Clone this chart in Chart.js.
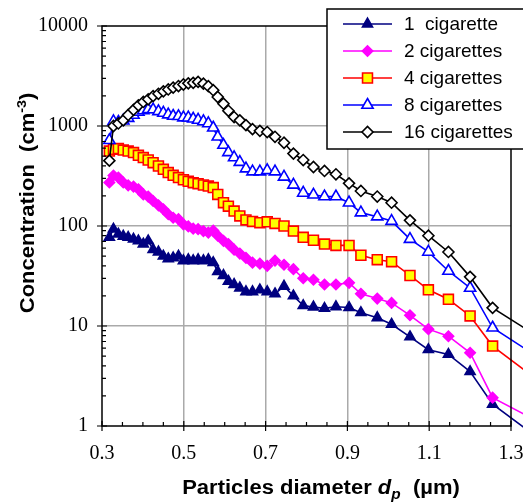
<!DOCTYPE html>
<html><head><meta charset="utf-8">
<script src="https://cdn.jsdelivr.net/npm/chart.js@4.4.1/dist/chart.umd.min.js"></script>
<style>html,body{margin:0;padding:0;background:#fff;overflow:hidden}canvas{display:block}</style>
</head><body>
<canvas id="c" width="523" height="502"></canvas>
<script>
// Particle diameter (µm) — shared size channels
const diameters = [0.318,0.328,0.340,0.352,0.364,0.377,0.389,0.401,0.413,0.425,0.438,0.450,0.462,0.474,0.487,0.499,0.511,0.523,0.535,0.548,0.560,0.572,0.583,0.597,0.609,0.623,0.637,0.652,0.668,0.686,0.704,0.723,0.745,0.768,0.792,0.817,0.844,0.872,0.904,0.933,0.973,1.008,1.053,1.098,1.147,1.200,1.255,1.35];
// Concentration (cm^-3)
const conc1 = [77,93,83,79,77,74,71,66,71,58,55,50,47,48,50,45,46,45,46,45,46,43,35,32,28,26,24,22,22,23,22,21,25,20,16,15.5,15,15.6,15.3,13.6,12.1,10.4,7.8,5.8,5.2,3.5,1.65,0.85];
const conc2 = [272,320,305,272,255,248,233,207,197,178,161,147,131,121,117,104,99,94,93,89,86,90,80,71,66,58,53,48,43,42,40,45,41,37,30,29,26,26,27,21,18.8,17,12.8,9.3,7.9,5.4,1.92,1.2];
const conc4 = [562,585,594,575,562,542,509,483,457,430,398,369,342,321,305,290,280,271,265,257,251,242,207,171,158,141,126,115,111,108,110,106,100,89,77,72,66,64,64,51,46,44,32,23,18.5,12.6,6.3,3.2];
const conc8 = [720,1110,1096,1130,1200,1290,1380,1430,1469,1460,1400,1350,1300,1259,1250,1213,1210,1180,1150,1110,1060,960,780,645,545,485,435,375,350,350,360,350,310,258,214,205,197,197,171,136,124,112,74,55,35.5,24,9.6,5.4];
const conc16 = [450,1000,1060,1140,1290,1450,1610,1740,1850,1990,2100,2220,2320,2420,2510,2600,2670,2700,2760,2650,2500,2280,1950,1670,1420,1230,1140,1020,930,895,870,780,680,530,457,389,355,329,267,224,197,171,114,80,55,31,15.2,8.6];
const seriesLabels = ['1  cigarette','2 cigarettes','4 cigarettes','8 cigarettes','16 cigarettes'];
const xTickValues = [0.3,0.5,0.7,0.9,1.1,1.3];
const yTickValues = [1,10,100,1000,10000];

const seriesValues = [conc1, conc2, conc4, conc8, conc16];
const styles = [
  {line:'#000080', fill:'#000080', stroke:'#000080', shape:'triangle', r:5.8, order:5},
  {line:'#FF00FF', fill:'#FF00FF', stroke:'#FF00FF', shape:'rectRot', r:5.2, order:4},
  {line:'#FF0000', fill:'#FFFF00', stroke:'#FF0000', shape:'rect', r:7, order:3},
  {line:'#0000FF', fill:'#FFFFFF', stroke:'#0000FF', shape:'triangle', r:6.5, order:2},
  {line:'#000000', fill:'#FFFFFF', stroke:'#000000', shape:'rectRot', r:5.5, order:1}
];

const datasets = seriesValues.map((vals, k) => ({
  label: seriesLabels[k],
  data: diameters.map((d, i) => ({x: d, y: vals[i]})),
  borderColor: styles[k].line,
  borderWidth: 1.6,
  pointStyle: styles[k].shape,
  pointRadius: styles[k].r,
  pointBackgroundColor: styles[k].fill,
  pointBorderColor: styles[k].stroke,
  pointBorderWidth: 1.6,
  tension: 0,
  fill: false,
  clip: false,
  order: styles[k].order
}));

const SERIF = '"Liberation Serif","Times New Roman",serif';
const SANS = '"Liberation Sans",Arial,sans-serif';

function drawParts(ctx, parts, cx, baseline, sx) {
  let total = 0;
  parts.forEach(p => { ctx.font = p.f; p.w = ctx.measureText(p.t).width; total += p.w; });
  ctx.save();
  ctx.translate(cx, baseline);
  ctx.scale(sx, 1);
  let x = -total / 2;
  ctx.textAlign = 'left';
  ctx.textBaseline = 'alphabetic';
  parts.forEach(p => { ctx.font = p.f; ctx.fillText(p.t, x, p.dy || 0); x += p.w; });
  ctx.restore();
}

const decor = {
  id: 'decor',
  afterDatasetsDraw(chart) {
    const ctx = chart.ctx, a = chart.chartArea;
    const xs = chart.scales.x, ys = chart.scales.y;
    ctx.save();
    ctx.strokeStyle = '#000';
    ctx.lineWidth = 1.5;
    ctx.strokeRect(a.left, a.top, a.right - a.left, a.bottom - a.top);
    ctx.lineWidth = 1.2;
    ctx.beginPath();
    for (let i = 0; i <= 20; i++) {
      const px = xs.getPixelForValue(0.3 + i * 0.05);
      if (i % 4 === 0) { ctx.moveTo(px, a.bottom - 5); ctx.lineTo(px, a.bottom + 5); }
      else { ctx.moveTo(px, a.bottom - 4); ctx.lineTo(px, a.bottom); }
    }
    for (let k = 0; k <= 4; k++) {
      const py = ys.getPixelForValue(Math.pow(10, k));
      ctx.moveTo(a.left - 5, py); ctx.lineTo(a.left + 5, py);
      if (k < 4) {
        for (let m = 2; m <= 9; m++) {
          const q = ys.getPixelForValue(m * Math.pow(10, k));
          ctx.moveTo(a.left, q); ctx.lineTo(a.left + 4, q);
        }
      }
    }
    ctx.stroke();
    ctx.restore();
  },
  afterDraw(chart) {
    const ctx = chart.ctx;
    ctx.save();
    ctx.fillStyle = '#000';
    // x title
    drawParts(ctx, [
      {t: 'Particles diameter ', f: 'bold 20px ' + SANS},
      {t: 'd', f: 'italic bold 20px ' + SANS},
      {t: 'p', f: 'italic bold 14px ' + SANS, dy: 5},
      {t: '  (\u00b5m)', f: 'bold 20px ' + SANS}
    ], 321, 494, 1.1);
    // y title
    ctx.save();
    ctx.translate(34, 203);
    ctx.rotate(-Math.PI / 2);
    drawParts(ctx, [
      {t: 'Concentration  (cm', f: 'bold 20px ' + SANS},
      {t: '-3', f: 'bold 13px ' + SANS, dy: -8},
      {t: ')', f: 'bold 20px ' + SANS}
    ], 0, 0, 1.1);
    ctx.restore();
    // legend
    const bx = 327, by = 9, bw = 198, bh = 140;
    ctx.fillStyle = '#fff';
    ctx.fillRect(bx, by, bw, bh);
    ctx.strokeStyle = '#000';
    ctx.lineWidth = 1.5;
    ctx.strokeRect(bx, by, bw, bh);
    chart.data.datasets.forEach((ds, i) => {
      const y = 24 + 27 * i;
      ctx.strokeStyle = ds.borderColor;
      ctx.lineWidth = 1.6;
      ctx.beginPath(); ctx.moveTo(343, y); ctx.lineTo(392, y); ctx.stroke();
      ctx.fillStyle = ds.pointBackgroundColor;
      ctx.strokeStyle = ds.pointBorderColor;
      ctx.lineWidth = ds.pointBorderWidth;
      Chart.helpers.drawPoint(ctx, {pointStyle: ds.pointStyle, radius: ds.pointRadius, rotation: 0, borderWidth: ds.pointBorderWidth}, 367.5, y);
      ctx.fillStyle = '#000';
      ctx.font = '19px ' + SANS;
      ctx.textAlign = 'left';
      ctx.textBaseline = 'middle';
      ctx.fillText(ds.label, 404, y + 1);
    });
    ctx.restore();
  }
};

new Chart(document.getElementById('c'), {
  type: 'line',
  data: {datasets},
  options: {
    responsive: false,
    animation: false,
    devicePixelRatio: 1,
    layout: {padding: {top: 26, right: 12, bottom: 0, left: 0}},
    plugins: {legend: {display: false}, tooltip: {enabled: false}},
    scales: {
      x: {
        type: 'linear', min: 0.3, max: 1.3,
        afterBuildTicks: s => { s.ticks = xTickValues.map(v => ({value: v})); },
        afterFit: s => { s.height = 76; s.paddingLeft = 0; s.paddingRight = 0; },
        border: {display: false},
        grid: {
          drawTicks: false, lineWidth: 1.5,
          color: c => (c.tick && c.tick.value > 0.31 && c.tick.value < 1.29) ? '#aaaaaa' : 'rgba(0,0,0,0)'
        },
        ticks: {
          autoSkip: false, maxRotation: 0, padding: 16, color: '#000',
          font: {family: SERIF, size: 20},
          callback: v => Number(v).toFixed(1)
        }
      },
      y: {
        type: 'logarithmic', min: 1, max: 10000,
        afterBuildTicks: s => { s.ticks = yTickValues.map(v => ({value: v})); },
        afterFit: s => { s.width = 102; s.paddingTop = 0; s.paddingBottom = 0; },
        border: {display: false},
        grid: {
          drawTicks: false, lineWidth: 1.5,
          color: c => (c.tick && c.tick.value > 1 && c.tick.value < 10000) ? '#aaaaaa' : 'rgba(0,0,0,0)'
        },
        ticks: {
          autoSkip: false, padding: 14, color: '#000',
          font: {family: SERIF, size: 20},
          callback: v => String(v)
        }
      }
    }
  },
  plugins: [decor]
});
</script>
</body></html>
